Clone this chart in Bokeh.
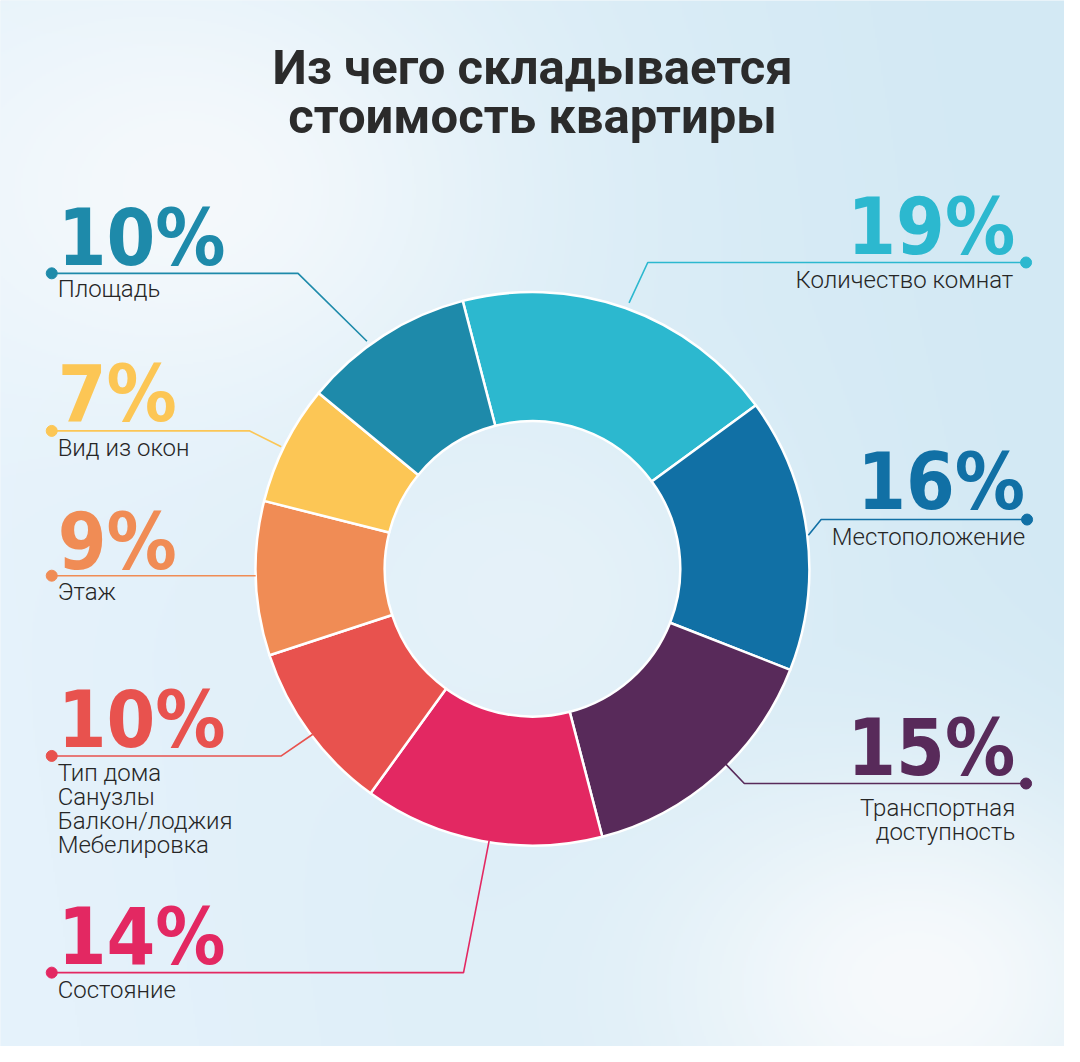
import numpy as np
from bokeh.plotting import figure
from bokeh.models import Range1d, ColumnDataSource
from bokeh.core.properties import value
from bokeh.embed import file_html
from bokeh.resources import INLINE

# ---------------- data ----------------
title_lines = ["Из чего складывается", "стоимость квартиры"]
categories = ["Количество комнат", "Местоположение", "Транспортная доступность",
              "Состояние", "Тип дома, Санузлы, Балкон/лоджия, Мебелировка",
              "Этаж", "Вид из окон", "Площадь"]
shares = [19, 16, 15, 14, 10, 9, 7, 10]
label_lines = [["Количество комнат"], ["Местоположение"], ["Транспортная", "доступность"],
               ["Состояние"], ["Тип дома", "Санузлы", "Балкон/лоджия", "Мебелировка"],
               ["Этаж"], ["Вид из окон"], ["Площадь"]]

# ---------------- style / layout ----------------
colors = ["#2cb8cf", "#1170a5", "#582a5a", "#e32862", "#e8524e", "#f08c55", "#fcc655", "#1e8aaa"]
REF_W, REF_H = 1080, 1062   # layout coordinates (reference pixels)
CX, CY = 540, 577
R_OUT, R_IN = 281, 150
START_DEG = 104.6          # first boundary, counter-clockwise from +x; slices run clockwise

layout = [
    dict(side="R", px=1030, pb=258, tx=1028, tb=292, lead=[(1041, 266), (657, 266), (638, 307)]),
    dict(side="R", px=1040, pb=517, tx=1040, tb=553, lead=[(1042, 527), (833, 527), (820, 543)]),
    dict(side="R", px=1030, pb=787, tx=1030, tb=828, lead=[(1041, 795), (755, 795), (735, 774)]),
    dict(side="L", px=58, pb=979, tx=58, tb=1013, lead=[(52, 987), (470, 987), (496, 853)]),
    dict(side="L", px=58, pb=759, tx=58, tb=793, lead=[(52, 767), (285, 767), (317, 745)]),
    dict(side="L", px=58, pb=578, tx=58, tb=609, lead=[(52, 584), (259, 584)]),
    dict(side="L", px=58, pb=428, tx=58, tb=463, lead=[(52, 437), (253, 437), (285, 453)]),
    dict(side="L", px=58, pb=269, tx=58, tb=302, lead=[(52, 277), (302, 277), (372, 346)]),
]
LINE_STEP = 24.5
BASE_FIX = 0.36   # em offset to put Bokeh's alphabetic anchor on the wanted baseline
PCT_SIZE, TXT_SIZE, TITLE_SIZE = 78, 24, 49


def ty(baseline, size):
    return -(baseline - BASE_FIX * size)


W, H = 1064, 1046
p = figure(width=W, height=H, x_range=Range1d(0, REF_W), y_range=Range1d(-REF_H, 0),
           output_backend="svg", toolbar_location=None, min_border=0,
           x_axis_location=None, y_axis_location=None)
p.grid.visible = False
p.outline_line_color = None
p.background_fill_color = "#e2f0f8"
p.border_fill_color = "#e2f0f8"

# ---------------- background gradient ----------------
gw, gh = 540, 531
xs = np.linspace(0, REF_W, gw)
ys = np.linspace(REF_H, 0, gh)   # row 0 = bottom
PX, PY = np.meshgrid(xs, ys)
left = np.array([229, 242, 251.0])
right = np.array([211, 233, 244.0])
t = PX / REF_W
t = np.clip(t + 0.15 * (0.5 - PY / REF_H), 0, 1)
base = left[None, None, :] * (1 - t[..., None]) + right[None, None, :] * t[..., None]
white = np.array([247, 250, 252.0])
w1 = 0.9 * np.exp(-(((PX - 190) / 300) ** 2 + ((PY - 190) / 230) ** 2))
w2 = 1.0 * np.exp(-(((PX - 930) / 260) ** 2 + ((PY - 1000) / 210) ** 2))
w3 = 0.35 * np.exp(-(((PX - 560) / 220) ** 2 + ((PY - 600) / 200) ** 2))
wt = np.clip(np.maximum(np.maximum(w1, w2), w3), 0, 1)[..., None]
rgb = base * (1 - wt) + white[None, None, :] * wt
img = np.zeros((gh, gw), dtype=np.uint32)
view = img.view(dtype=np.uint8).reshape((gh, gw, 4))
view[..., 0] = rgb[..., 0].astype(np.uint8)
view[..., 1] = rgb[..., 1].astype(np.uint8)
view[..., 2] = rgb[..., 2].astype(np.uint8)
view[..., 3] = 255
p.image_rgba(image=[img], x=0, y=-REF_H, dw=REF_W, dh=REF_H)

# ---------------- donut ----------------
shares_arr = np.array(shares, dtype=float)
frac = shares_arr / shares_arr.sum()
cum = np.cumsum(frac)
a0 = np.radians(START_DEG)
cw_start = a0 - 2 * np.pi * (cum - frac)
cw_end = a0 - 2 * np.pi * cum
src = ColumnDataSource(dict(x=[CX] * len(shares), y=[-CY] * len(shares),
                            start=cw_end, end=cw_start, color=colors,
                            cat=categories, share=shares))
p.annular_wedge(x="x", y="y", inner_radius=R_IN, outer_radius=R_OUT,
                start_angle="start", end_angle="end", fill_color="color",
                line_color="white", line_width=2.5, line_join="round", source=src)

# ---------------- leaders, dots and labels ----------------
PCT_FONT = value("DejaVu Sans Condensed, Roboto Condensed, Liberation Sans Narrow, Roboto")
TXT_FONT = value("Roboto Light, Roboto")
for share, lines, col, lay in zip(shares, label_lines, colors, layout):
    lx = [pt[0] for pt in lay["lead"]]
    ly = [-pt[1] for pt in lay["lead"]]
    p.line(lx, ly, line_color=col, line_width=1.6)
    p.scatter([lx[0]], [ly[0]], size=11, fill_color=col, line_color=col)
    align = "left" if lay["side"] == "L" else "right"
    p.text(x=[lay["px"]], y=[ty(lay["pb"], PCT_SIZE)], text=[f"{share}%"], text_font=PCT_FONT,
           text_font_style="bold", text_font_size=f"{PCT_SIZE}px", text_color=col,
           text_align=align, text_baseline="alphabetic")
    for i, ln in enumerate(lines):
        p.text(x=[lay["tx"]], y=[ty(lay["tb"] + i * LINE_STEP, TXT_SIZE)], text=[ln],
               text_font=TXT_FONT, text_font_size=f"{TXT_SIZE}px", text_color="#262626",
               text_align=align, text_baseline="alphabetic")

# ---------------- title ----------------
p.text(x=[540, 540], y=[ty(86, TITLE_SIZE), ty(135, TITLE_SIZE)], text=title_lines,
       text_font=value("Roboto"), text_font_style="bold", text_font_size=f"{TITLE_SIZE}px",
       text_color="#2b2b2b", text_align="center", text_baseline="alphabetic")

open("out.html", "w").write(file_html(p, INLINE))
